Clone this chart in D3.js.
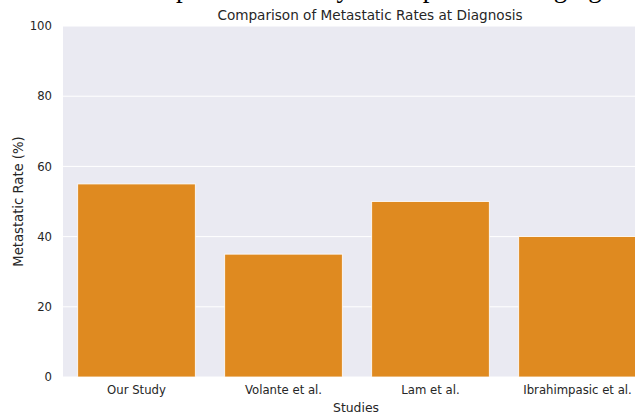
<!DOCTYPE html>
<html>
<head>
<meta charset="utf-8">
<script src="https://cdn.jsdelivr.net/npm/d3@7"></script>
<style>
  body { margin: 0; background: #fff; }
  svg { display: block; font-family: "DejaVu Sans", sans-serif; }
</style>
</head>
<body>
<div id="chart"></div>
<script>
var studies = ["Our Study", "Volante et al.", "Lam et al.", "Ibrahimpasic et al."];
var metastaticRates = [55, 35, 50, 40];
var yTicks = [0, 20, 40, 60, 80, 100];

var data = studies.map((s, i) => ({ study: s, rate: metastaticRates[i] }));

const width = 635, height = 414;
const margin = { top: 26, left: 63, bottom: 37 };
const plotH = height - margin.top - margin.bottom;

var svg = d3.select("#chart")
  .append("svg")
  .attr("width", width)
  .attr("height", height);

// cut-off line of page text at the very top (only descenders show)
svg.append("text")
  .attr("x", -100)
  .attr("y", -3)
  .attr("text-anchor", "start")
  .style("font-family", "'Liberation Serif', 'DejaVu Serif', serif")
  .style("font-size", "27px")
  .style("fill", "#000")
  .text("This chart shows the comparison of study at the patient restaging");

// the plot is cut off on the right, band range goes past the edge
var x = d3.scaleBand()
  .domain(studies)
  .range([margin.left, margin.left + 4 * 147])
  .paddingInner(0.2)
  .paddingOuter(0.1);

var y = d3.scaleLinear()
  .domain([0, 100])
  .range([margin.top + plotH, margin.top]);

svg.append("rect")
  .attr("x", margin.left)
  .attr("y", margin.top)
  .attr("width", width - margin.left)
  .attr("height", plotH)
  .attr("fill", "#EAEAF2");

// grid
svg.append("g")
  .selectAll("line")
  .data(yTicks)
  .enter().append("line")
  .attr("x1", margin.left)
  .attr("x2", width)
  .attr("y1", d => y(d))
  .attr("y2", d => y(d))
  .attr("stroke", "#fff")
  .attr("stroke-width", 1);

// bars
svg.append("g")
  .selectAll("rect")
  .data(data)
  .enter().append("rect")
  .attr("x", d => x(d.study))
  .attr("y", d => y(d.rate))
  .attr("width", x.bandwidth())
  .attr("height", d => y(0) - y(d.rate))
  .attr("fill", "#DF8A20")
  .attr("stroke", "#fff")
  .attr("stroke-width", 0.8);

// y axis
var yAxis = svg.append("g")
  .attr("transform", `translate(${margin.left},0)`)
  .call(d3.axisLeft(y).tickValues(yTicks).tickSize(0).tickPadding(11));
yAxis.select(".domain").remove();
yAxis.selectAll("text")
  .style("font-size", "11.7px")
  .style("font-family", "'DejaVu Sans', sans-serif")
  .attr("fill", "#262626");

// x axis
var xAxis = svg.append("g")
  .attr("transform", `translate(0,${y(0)})`)
  .call(d3.axisBottom(x).tickSize(0).tickPadding(9));
xAxis.select(".domain").remove();
xAxis.selectAll("text")
  .style("font-size", "11.7px")
  .style("font-family", "'DejaVu Sans', sans-serif")
  .attr("fill", "#262626");

// labels
svg.append("text")
  .attr("x", 370)
  .attr("y", 20)
  .attr("text-anchor", "middle")
  .style("font-size", "13.6px")
  .attr("fill", "#262626")
  .text("Comparison of Metastatic Rates at Diagnosis");

svg.append("text")
  .attr("x", 356)
  .attr("y", 412)
  .attr("text-anchor", "middle")
  .style("font-size", "12.4px")
  .attr("fill", "#262626")
  .text("Studies");

svg.append("text")
  .attr("transform", `translate(23,${margin.top + plotH / 2}) rotate(-90)`)
  .attr("text-anchor", "middle")
  .style("font-size", "13.2px")
  .attr("fill", "#262626")
  .text("Metastatic Rate (%)");
</script>
</body>
</html>
